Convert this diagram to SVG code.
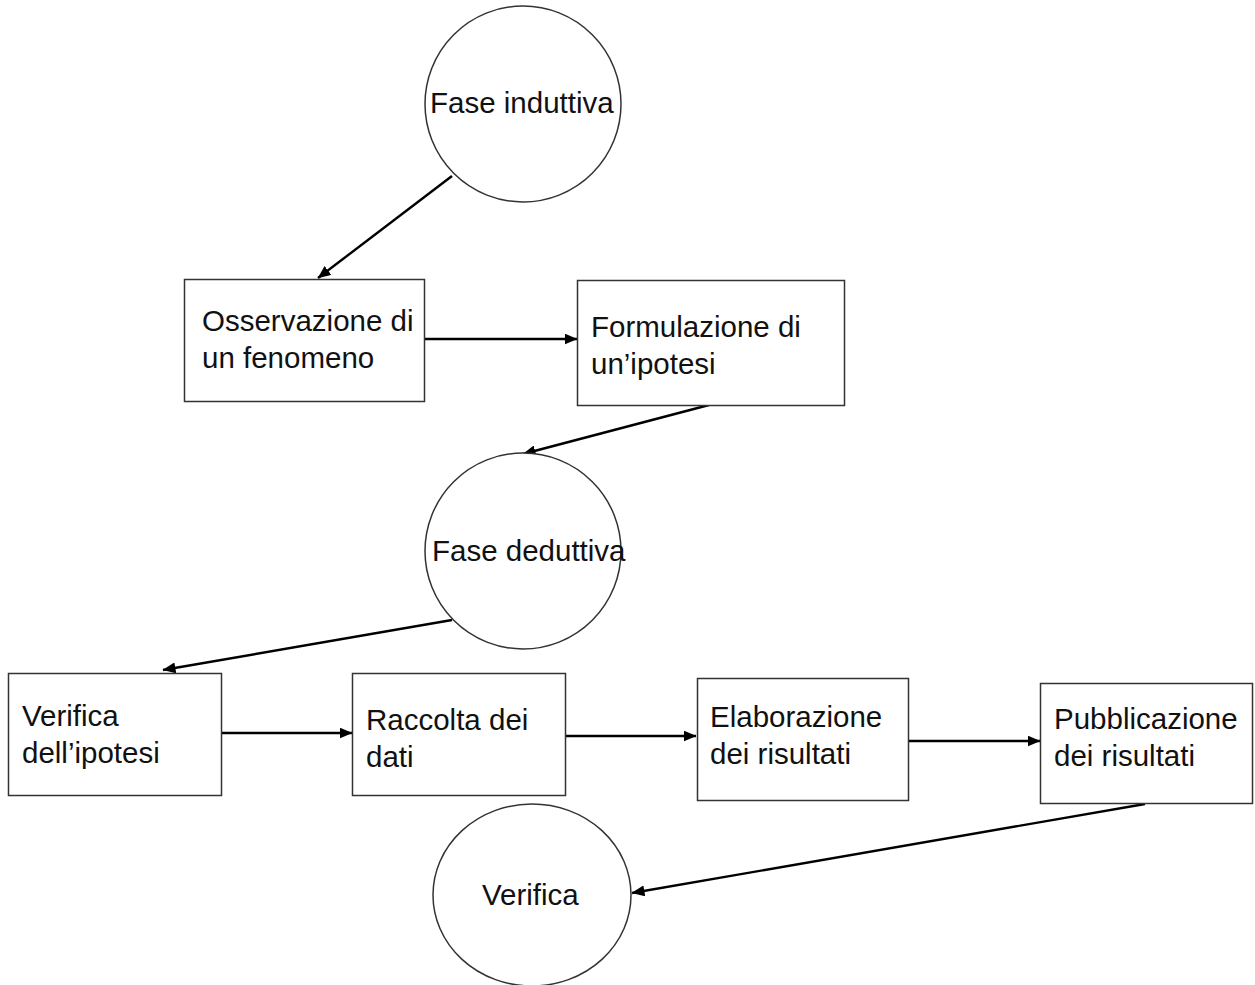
<svg xmlns="http://www.w3.org/2000/svg" width="1255" height="985" viewBox="0 0 1255 985">
  <style>
    .box { fill: #ffffff; stroke: #333333; stroke-width: 1.5; }
    .ring { fill: #ffffff; stroke: #333333; stroke-width: 1.5; }
    .lbl { font-family: "Liberation Sans", Arial, sans-serif; font-size: 29.5px; fill: #111111; }
    .link { fill: none; stroke: #000000; stroke-width: 2.4; marker-end: url(#tip); }
  </style>
  <defs>
    <marker id="tip" markerUnits="userSpaceOnUse" viewBox="0 0 13 11" refX="12.5" refY="5.5" markerWidth="13" markerHeight="11" orient="auto">
      <path d="M0,0 L13,5.5 L0,11 z" fill="#000000"/>
    </marker>
  </defs>
  <rect width="1255" height="985" fill="#ffffff"/>

  <!-- connectors -->
  <g id="connectors">
    <line class="link" x1="452" y1="176" x2="318" y2="278"/>
    <line class="link" x1="424" y1="339" x2="577" y2="339"/>
    <line class="link" x1="709" y1="405" x2="523" y2="454"/>
    <line class="link" x1="452" y1="620" x2="163" y2="670"/>
    <line class="link" x1="222" y1="733" x2="352" y2="733"/>
    <line class="link" x1="566" y1="736" x2="696" y2="736"/>
    <line class="link" x1="909" y1="741" x2="1040" y2="741"/>
    <line class="link" x1="1145" y1="804" x2="632" y2="893"/>
  </g>

  <!-- phase circles -->
  <g id="fase-induttiva">
    <circle class="ring" cx="523" cy="104" r="98"/>
    <text class="lbl" x="430" y="113">Fase induttiva</text>
  </g>
  <g id="fase-deduttiva">
    <circle class="ring" cx="523" cy="551" r="98"/>
    <text class="lbl" x="432" y="561">Fase deduttiva</text>
  </g>
  <g id="verifica">
    <ellipse class="ring" cx="532" cy="895" rx="99" ry="91"/>
    <text class="lbl" x="482" y="905">Verifica</text>
  </g>

  <!-- step boxes -->
  <g id="osservazione">
    <rect class="box" x="184.5" y="279.5" width="240" height="122"/>
    <text class="lbl" x="202" y="331">Osservazione di</text>
    <text class="lbl" x="202" y="368">un fenomeno</text>
  </g>
  <g id="formulazione">
    <rect class="box" x="577.5" y="280.5" width="267" height="125"/>
    <text class="lbl" x="591" y="337">Formulazione di</text>
    <text class="lbl" x="591" y="374">un’ipotesi</text>
  </g>
  <g id="verifica-ipotesi">
    <rect class="box" x="8.5" y="673.5" width="213" height="122"/>
    <text class="lbl" x="22" y="726">Verifica</text>
    <text class="lbl" x="22" y="763">dell’ipotesi</text>
  </g>
  <g id="raccolta">
    <rect class="box" x="352.5" y="673.5" width="213" height="122"/>
    <text class="lbl" x="366" y="730">Raccolta dei</text>
    <text class="lbl" x="366" y="767">dati</text>
  </g>
  <g id="elaborazione">
    <rect class="box" x="697.5" y="678.5" width="211" height="122"/>
    <text class="lbl" x="710" y="727">Elaborazione</text>
    <text class="lbl" x="710" y="764">dei risultati</text>
  </g>
  <g id="pubblicazione">
    <rect class="box" x="1040.5" y="683.5" width="212" height="120"/>
    <text class="lbl" x="1054" y="729">Pubblicazione</text>
    <text class="lbl" x="1054" y="766">dei risultati</text>
  </g>
</svg>
